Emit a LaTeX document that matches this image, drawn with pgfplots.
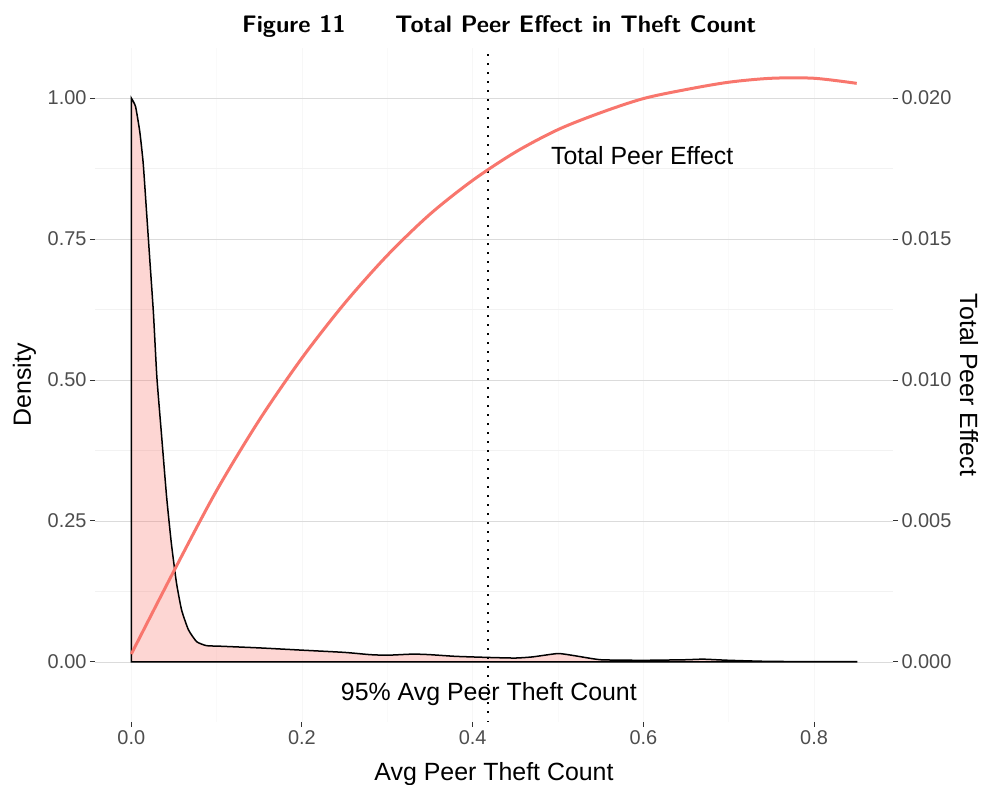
\documentclass[border=0pt]{standalone}
\usepackage{pgfplots}
\pgfplotsset{compat=1.18}
\usepackage{fontspec}
\setmainfont{Liberation Sans}
\definecolor{ggred}{HTML}{F8766D}
\definecolor{tickgray}{HTML}{333333}
\definecolor{labgray}{HTML}{4D4D4D}
\pgfplotsset{panel/.style={at={(0,0)}, anchor=south west, scale only axis,
  width=798bp, height=674bp, xmin=-0.0425, xmax=0.8925,
  axis line style={draw=none}, tick align=outside,
  major tick length=5bp, minor tick length=0bp,
  tick style={color=tickgray, line width=1bp}}}
\begin{document}
\begin{tikzpicture}
\useasboundingbox (-95bp,-63bp) rectangle (889bp,722bp);
% vertical grid + x ticks + left ticks
\begin{axis}[panel, ymin=-0.1064, ymax=1.0887,
  xtick={0,0.2,0.4,0.6,0.8}, minor xtick={0.1,0.3,0.5,0.7},
  ytick={0,0.25,0.5,0.75,1},
  xtick pos=bottom, ytick pos=left,
  xmajorgrids, xminorgrids,
  major grid style={color=black!3, line width=0.8bp},
  minor grid style={color=black!2, line width=0.5bp},
  xticklabel style={font=\fontsize{20}{24}\selectfont, text=labgray, /pgf/number format/fixed, /pgf/number format/fixed zerofill, /pgf/number format/precision=1},
  yticklabel style={font=\fontsize{20}{24}\selectfont, text=labgray, /pgf/number format/fixed, /pgf/number format/fixed zerofill, /pgf/number format/precision=2},
  /pgf/number format/assume math mode=true]
\end{axis}
% horizontal grid + right ticks
\begin{axis}[panel, ymin=-0.002128, ymax=0.021774,
  xtick=\empty, ytick={0,0.005,0.01,0.015,0.02},
  minor ytick={0.0025,0.0075,0.0125,0.0175},
  ytick pos=right, scaled y ticks=false,
  ymajorgrids, yminorgrids,
  major grid style={color=black!14, line width=0.8bp},
  minor grid style={color=black!5, line width=0.5bp},
  yticklabel style={font=\fontsize{20}{24}\selectfont, text=labgray, /pgf/number format/fixed, /pgf/number format/fixed zerofill, /pgf/number format/precision=3},
  /pgf/number format/assume math mode=true]
\end{axis}
% density
\begin{axis}[panel, ymin=-0.1064, ymax=1.0887, hide axis]
\addplot[draw=black, line width=1.5bp, fill=ggred, fill opacity=0.3, smooth, tension=0.3] coordinates {
(0,1.0) (0.005,0.985) (0.010,0.94) (0.014,0.884) (0.018,0.796) (0.022,0.707)
(0.026,0.618) (0.030,0.505) (0.0356,0.40) (0.0414,0.293) (0.047,0.21)
(0.053,0.14) (0.059,0.092) (0.067,0.057) (0.0766,0.036) (0.088,0.029)
(0.104,0.028) (0.15,0.025) (0.2,0.021) (0.25,0.017) (0.28,0.013) (0.3,0.012)
(0.33,0.014) (0.35,0.013) (0.38,0.010) (0.42,0.008) (0.45,0.007) (0.47,0.009)
(0.5,0.015) (0.52,0.011) (0.55,0.004) (0.6,0.003) (0.65,0.004) (0.67,0.005)
(0.7,0.003) (0.75,0.001) (0.85,0.0005)} \closedcycle;
\addplot[draw=black, line width=1.5bp, dash pattern=on 1.5bp off 7.5bp] coordinates {(0.418,-0.1064) (0.418,1.0887)};
\node[anchor=base, font=\fontsize{25}{30}\selectfont] at (axis cs:0.5986,0.883) {Total Peer Effect};
\node[anchor=base, font=\fontsize{25}{30}\selectfont] at (axis cs:0.419,-0.0686) {95\% Avg Peer Theft Count};
\end{axis}
% total peer effect curve
\begin{axis}[panel, ymin=-0.002128, ymax=0.021774, hide axis]
\addplot[draw=ggred, line width=3bp, smooth] coordinates {
(0,0.00028) (0.05,0.00323) (0.1,0.00608) (0.15,0.00858) (0.2,0.01078)
(0.25,0.01272) (0.3,0.01442) (0.35,0.01588) (0.4,0.01708) (0.45,0.01808)
(0.5,0.01888) (0.55,0.01948) (0.6,0.01998) (0.65,0.02030) (0.7,0.02056)
(0.75,0.02070) (0.8,0.02070) (0.85,0.02052)};
\end{axis}
% titles
\node[anchor=base, font=\fontsize{25}{30}\selectfont] at (399bp,-58bp) {Avg Peer Theft Count};
\node[anchor=base, rotate=90, font=\fontsize{25}{30}\selectfont] at (-64bp,337bp) {Density};
\node[anchor=base, rotate=-90, font=\fontsize{25}{30}\selectfont] at (865bp,337bp) {Total Peer Effect};
\node[anchor=base west, inner sep=0pt, font=\fontsize{24}{28}\selectfont\sffamily\bfseries] at (147bp,689bp) {Figure 11};
\node[anchor=base west, inner sep=0pt, font=\fontsize{24}{28}\selectfont\sffamily\bfseries] at (300bp,689bp) {Total Peer Effect in Theft Count};
\end{tikzpicture}
\end{document}
